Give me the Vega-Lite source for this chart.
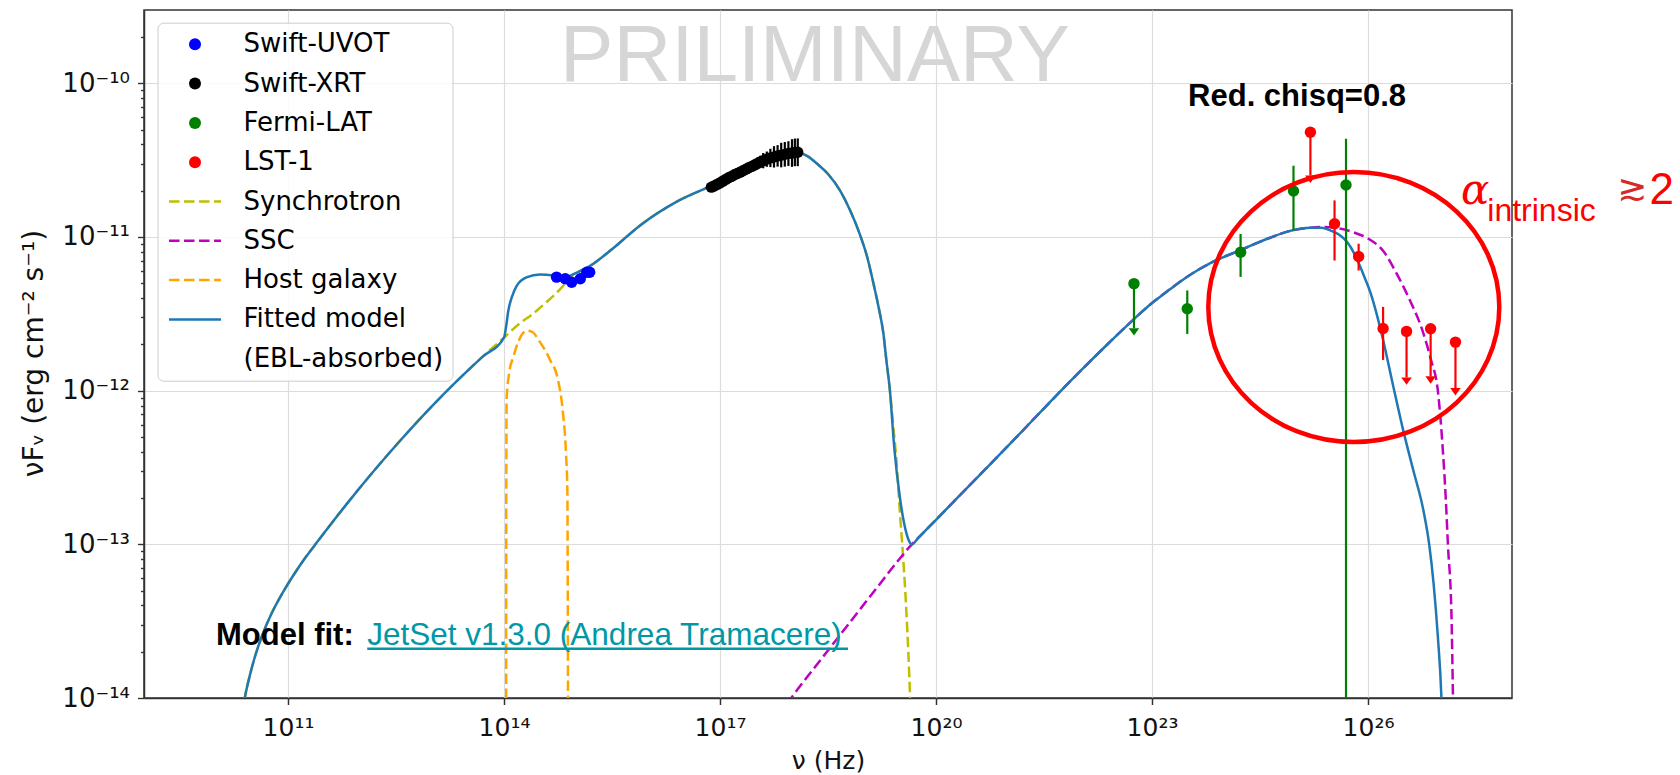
{
  "$schema": "https://vega.github.io/schema/vega-lite/v6.json",
  "width": 1368,
  "height": 688,
  "autosize": {"type": "none"},
  "padding": {"left": 144, "top": 10, "right": 168, "bottom": 77},
  "background": "white",
  "config": {
    "font": "DejaVu Sans",
    "view": {"stroke": "#333333", "strokeWidth": 1.5}
  },
  "datasets": {
    "pts": [
      {"series": "Swift-UVOT", "nu": 5.37e14, "F": 5.48e-12},
      {"series": "Swift-UVOT", "nu": 7.08e14, "F": 5.35e-12},
      {"series": "Swift-UVOT", "nu": 8.71e14, "F": 5.08e-12},
      {"series": "Swift-UVOT", "nu": 1.148e15, "F": 5.35e-12},
      {"series": "Swift-UVOT", "nu": 1.413e15, "F": 5.90e-12},
      {"series": "Swift-UVOT", "nu": 1.549e15, "F": 5.90e-12},
      {"series": "Swift-XRT", "nu": 7.59e16, "F": 2.11e-11},
      {"series": "Swift-XRT", "nu": 8.32e16, "F": 2.15e-11},
      {"series": "Swift-XRT", "nu": 9.12e16, "F": 2.20e-11},
      {"series": "Swift-XRT", "nu": 1.0e17, "F": 2.25e-11},
      {"series": "Swift-XRT", "nu": 1.096e17, "F": 2.31e-11},
      {"series": "Swift-XRT", "nu": 1.202e17, "F": 2.37e-11},
      {"series": "Swift-XRT", "nu": 1.318e17, "F": 2.43e-11},
      {"series": "Swift-XRT", "nu": 1.445e17, "F": 2.48e-11},
      {"series": "Swift-XRT", "nu": 1.585e17, "F": 2.54e-11},
      {"series": "Swift-XRT", "nu": 1.738e17, "F": 2.59e-11},
      {"series": "Swift-XRT", "nu": 1.905e17, "F": 2.64e-11},
      {"series": "Swift-XRT", "nu": 2.089e17, "F": 2.70e-11},
      {"series": "Swift-XRT", "nu": 2.291e17, "F": 2.76e-11},
      {"series": "Swift-XRT", "nu": 2.512e17, "F": 2.82e-11},
      {"series": "Swift-XRT", "nu": 2.754e17, "F": 2.88e-11},
      {"series": "Swift-XRT", "nu": 3.020e17, "F": 2.94e-11},
      {"series": "Swift-XRT", "nu": 3.311e17, "F": 3.01e-11},
      {"series": "Swift-XRT", "nu": 3.631e17, "F": 3.08e-11},
      {"series": "Swift-XRT", "nu": 3.981e17, "F": 3.14e-11},
      {"series": "Swift-XRT", "nu": 4.467e17, "F": 3.21e-11},
      {"series": "Swift-XRT", "nu": 5.012e17, "F": 3.27e-11},
      {"series": "Swift-XRT", "nu": 5.623e17, "F": 3.32e-11},
      {"series": "Swift-XRT", "nu": 6.310e17, "F": 3.37e-11},
      {"series": "Swift-XRT", "nu": 7.079e17, "F": 3.41e-11},
      {"series": "Swift-XRT", "nu": 7.943e17, "F": 3.45e-11},
      {"series": "Swift-XRT", "nu": 8.913e17, "F": 3.49e-11},
      {"series": "Swift-XRT", "nu": 1.0e18, "F": 3.52e-11},
      {"series": "Swift-XRT", "nu": 1.096e18, "F": 3.55e-11},
      {"series": "Swift-XRT", "nu": 1.202e18, "F": 3.56e-11},
      {"series": "Fermi-LAT", "nu": 5.62e22, "F": 4.97e-12},
      {"series": "Fermi-LAT", "nu": 3.09e23, "F": 3.41e-12},
      {"series": "Fermi-LAT", "nu": 1.70e24, "F": 7.96e-12},
      {"series": "Fermi-LAT", "nu": 9.23e24, "F": 1.99e-11},
      {"series": "Fermi-LAT", "nu": 4.95e25, "F": 2.18e-11},
      {"series": "LST-1", "nu": 1.585e25, "F": 4.80e-11},
      {"series": "LST-1", "nu": 3.43e25, "F": 1.22e-11},
      {"series": "LST-1", "nu": 7.41e25, "F": 7.46e-12},
      {"series": "LST-1", "nu": 1.62e26, "F": 2.54e-12},
      {"series": "LST-1", "nu": 3.43e26, "F": 2.43e-12},
      {"series": "LST-1", "nu": 7.41e26, "F": 2.53e-12},
      {"series": "LST-1", "nu": 1.64e27, "F": 2.07e-12}
    ],
    "err": [
      {"series": "Swift-XRT", "nu": 3.311e17, "F2": 2.75e-11, "F": 3.30e-11},
      {"series": "Swift-XRT", "nu": 3.631e17, "F2": 2.81e-11, "F": 3.38e-11},
      {"series": "Swift-XRT", "nu": 3.981e17, "F2": 2.80e-11, "F": 3.52e-11},
      {"series": "Swift-XRT", "nu": 4.467e17, "F2": 2.86e-11, "F": 3.60e-11},
      {"series": "Swift-XRT", "nu": 5.012e17, "F2": 2.85e-11, "F": 3.75e-11},
      {"series": "Swift-XRT", "nu": 5.623e17, "F2": 2.83e-11, "F": 3.90e-11},
      {"series": "Swift-XRT", "nu": 6.310e17, "F2": 2.87e-11, "F": 3.96e-11},
      {"series": "Swift-XRT", "nu": 7.079e17, "F2": 2.84e-11, "F": 4.10e-11},
      {"series": "Swift-XRT", "nu": 7.943e17, "F2": 2.87e-11, "F": 4.15e-11},
      {"series": "Swift-XRT", "nu": 8.913e17, "F2": 2.90e-11, "F": 4.20e-11},
      {"series": "Swift-XRT", "nu": 1.0e18, "F2": 2.86e-11, "F": 4.33e-11},
      {"series": "Swift-XRT", "nu": 1.096e18, "F2": 2.89e-11, "F": 4.37e-11},
      {"series": "Swift-XRT", "nu": 1.202e18, "F2": 2.89e-11, "F": 4.38e-11},
      {"series": "Fermi-LAT", "nu": 3.09e23, "F2": 2.34e-12, "F": 4.49e-12},
      {"series": "Fermi-LAT", "nu": 1.70e24, "F2": 5.50e-12, "F": 1.047e-11},
      {"series": "Fermi-LAT", "nu": 9.23e24, "F2": 1.10e-11, "F": 2.91e-11},
      {"series": "Fermi-LAT", "nu": 4.95e25, "F2": 1e-16, "F": 4.35e-11},
      {"series": "LST-1", "nu": 3.43e25, "F2": 7.03e-12, "F": 1.73e-11},
      {"series": "LST-1", "nu": 7.41e25, "F2": 6.05e-12, "F": 9.04e-12},
      {"series": "LST-1", "nu": 1.62e26, "F2": 1.585e-12, "F": 3.51e-12}
    ],
    "ul": [
      {"series": "Fermi-LAT", "nu": 5.62e22, "F": 4.97e-12, "F2": 2.55e-12},
      {"series": "LST-1", "nu": 1.585e25, "F": 4.80e-11, "F2": 2.51e-11},
      {"series": "LST-1", "nu": 3.43e26, "F": 2.43e-12, "F2": 1.22e-12},
      {"series": "LST-1", "nu": 7.41e26, "F": 2.53e-12, "F2": 1.24e-12},
      {"series": "LST-1", "nu": 1.64e27, "F": 2.07e-12, "F2": 1.04e-12}
    ],
    "ulhead": [
      {"series": "Fermi-LAT", "nu": 5.62e22, "F": 2.55e-12},
      {"series": "LST-1", "nu": 1.585e25, "F": 2.51e-11},
      {"series": "LST-1", "nu": 3.43e26, "F": 1.22e-12},
      {"series": "LST-1", "nu": 7.41e26, "F": 1.24e-12},
      {"series": "LST-1", "nu": 1.64e27, "F": 1.04e-12}
    ],
    "comp": [
      {"series": "Synchrotron", "nu": 2.291e10, "F": 7.586e-15},
      {"series": "Synchrotron", "nu": 2.512e10, "F": 1.0e-14},
      {"series": "Synchrotron", "nu": 2.951e10, "F": 1.403e-14},
      {"series": "Synchrotron", "nu": 3.548e10, "F": 1.919e-14},
      {"series": "Synchrotron", "nu": 4.467e10, "F": 2.618e-14},
      {"series": "Synchrotron", "nu": 5.888e10, "F": 3.532e-14},
      {"series": "Synchrotron", "nu": 8.318e10, "F": 4.786e-14},
      {"series": "Synchrotron", "nu": 1.259e11, "F": 6.561e-14},
      {"series": "Synchrotron", "nu": 1.778e11, "F": 8.299e-14},
      {"series": "Synchrotron", "nu": 2.570e11, "F": 1.042e-13},
      {"series": "Synchrotron", "nu": 6.310e11, "F": 1.793e-13},
      {"series": "Synchrotron", "nu": 1.585e12, "F": 3.034e-13},
      {"series": "Synchrotron", "nu": 3.981e12, "F": 4.977e-13},
      {"series": "Synchrotron", "nu": 1.0e13, "F": 7.925e-13},
      {"series": "Synchrotron", "nu": 2.188e13, "F": 1.148e-12},
      {"series": "Synchrotron", "nu": 5.012e13, "F": 1.660e-12},
      {"series": "Synchrotron", "nu": 1.0e14, "F": 2.213e-12},
      {"series": "Synchrotron", "nu": 1.585e14, "F": 2.692e-12},
      {"series": "Synchrotron", "nu": 2.512e14, "F": 3.162e-12},
      {"series": "Synchrotron", "nu": 3.981e14, "F": 3.802e-12},
      {"series": "Synchrotron", "nu": 6.026e14, "F": 4.571e-12},
      {"series": "Synchrotron", "nu": 8.913e14, "F": 5.623e-12},
      {"series": "Synchrotron", "nu": 1.549e15, "F": 6.457e-12},
      {"series": "Synchrotron", "nu": 3.162e15, "F": 8.318e-12},
      {"series": "Synchrotron", "nu": 7.762e15, "F": 1.189e-11},
      {"series": "Synchrotron", "nu": 2.512e16, "F": 1.698e-11},
      {"series": "Synchrotron", "nu": 7.244e16, "F": 2.138e-11},
      {"series": "Synchrotron", "nu": 1.380e17, "F": 2.483e-11},
      {"series": "Synchrotron", "nu": 2.344e17, "F": 2.799e-11},
      {"series": "Synchrotron", "nu": 3.981e17, "F": 3.162e-11},
      {"series": "Synchrotron", "nu": 6.761e17, "F": 3.428e-11},
      {"series": "Synchrotron", "nu": 1.0e18, "F": 3.548e-11},
      {"series": "Synchrotron", "nu": 1.288e18, "F": 3.508e-11},
      {"series": "Synchrotron", "nu": 1.660e18, "F": 3.350e-11},
      {"series": "Synchrotron", "nu": 2.188e18, "F": 3.020e-11},
      {"series": "Synchrotron", "nu": 3.162e18, "F": 2.570e-11},
      {"series": "Synchrotron", "nu": 4.677e18, "F": 1.995e-11},
      {"series": "Synchrotron", "nu": 6.310e18, "F": 1.514e-11},
      {"series": "Synchrotron", "nu": 8.710e18, "F": 1.047e-11},
      {"series": "Synchrotron", "nu": 1.122e19, "F": 7.244e-12},
      {"series": "Synchrotron", "nu": 1.349e19, "F": 5.012e-12},
      {"series": "Synchrotron", "nu": 1.585e19, "F": 3.548e-12},
      {"series": "Synchrotron", "nu": 1.862e19, "F": 2.344e-12},
      {"series": "Synchrotron", "nu": 2.042e19, "F": 1.585e-12},
      {"series": "Synchrotron", "nu": 2.291e19, "F": 1.0e-12},
      {"series": "Synchrotron", "nu": 2.512e19, "F": 6.310e-13},
      {"series": "Synchrotron", "nu": 2.818e19, "F": 3.548e-13},
      {"series": "Synchrotron", "nu": 3.162e19, "F": 1.585e-13},
      {"series": "Synchrotron", "nu": 3.548e19, "F": 7.413e-14},
      {"series": "Synchrotron", "nu": 3.890e19, "F": 3.548e-14},
      {"series": "Synchrotron", "nu": 4.365e19, "F": 1.0e-14},
      {"series": "Synchrotron", "nu": 4.571e19, "F": 5.012e-15},
      {"series": "SSC", "nu": 8.511e17, "F": 9.12e-15},
      {"series": "SSC", "nu": 9.772e17, "F": 1.0e-14},
      {"series": "SSC", "nu": 1.995e18, "F": 1.549e-14},
      {"series": "SSC", "nu": 3.981e18, "F": 2.344e-14},
      {"series": "SSC", "nu": 7.943e18, "F": 3.548e-14},
      {"series": "SSC", "nu": 1.585e19, "F": 5.370e-14},
      {"series": "SSC", "nu": 2.818e19, "F": 7.586e-14},
      {"series": "SSC", "nu": 4.624e19, "F": 1.0e-13},
      {"series": "SSC", "nu": 5.623e19, "F": 1.096e-13},
      {"series": "SSC", "nu": 1.0e20, "F": 1.445e-13},
      {"series": "SSC", "nu": 3.162e20, "F": 2.512e-13},
      {"series": "SSC", "nu": 1.0e21, "F": 4.365e-13},
      {"series": "SSC", "nu": 3.162e21, "F": 7.674e-13},
      {"series": "SSC", "nu": 1.0e22, "F": 1.334e-12},
      {"series": "SSC", "nu": 2.512e22, "F": 2.042e-12},
      {"series": "SSC", "nu": 4.898e22, "F": 2.754e-12},
      {"series": "SSC", "nu": 1.0e23, "F": 3.715e-12},
      {"series": "SSC", "nu": 1.778e23, "F": 4.571e-12},
      {"series": "SSC", "nu": 3.162e23, "F": 5.559e-12},
      {"series": "SSC", "nu": 6.457e23, "F": 6.761e-12},
      {"series": "SSC", "nu": 1.698e24, "F": 8.222e-12},
      {"series": "SSC", "nu": 4.365e24, "F": 9.886e-12},
      {"series": "SSC", "nu": 8.318e24, "F": 1.096e-11},
      {"series": "SSC", "nu": 1.585e25, "F": 1.148e-11},
      {"series": "SSC", "nu": 2.512e25, "F": 1.161e-11},
      {"series": "SSC", "nu": 3.981e25, "F": 1.135e-11},
      {"series": "SSC", "nu": 6.310e25, "F": 1.072e-11},
      {"series": "SSC", "nu": 1.0e26, "F": 9.772e-12},
      {"series": "SSC", "nu": 1.622e26, "F": 8.128e-12},
      {"series": "SSC", "nu": 2.512e26, "F": 5.754e-12},
      {"series": "SSC", "nu": 3.802e26, "F": 3.890e-12},
      {"series": "SSC", "nu": 5.623e26, "F": 2.512e-12},
      {"series": "SSC", "nu": 7.499e26, "F": 1.585e-12},
      {"series": "SSC", "nu": 9.333e26, "F": 1.0e-12},
      {"series": "SSC", "nu": 1.096e27, "F": 4.074e-13},
      {"series": "SSC", "nu": 1.202e27, "F": 1.995e-13},
      {"series": "SSC", "nu": 1.288e27, "F": 1.0e-13},
      {"series": "SSC", "nu": 1.445e27, "F": 3.388e-14},
      {"series": "SSC", "nu": 1.514e27, "F": 1.0e-14},
      {"series": "SSC", "nu": 1.549e27, "F": 5.012e-15},
      {"series": "Host galaxy", "nu": 1.072e14, "F": 5.012e-15},
      {"series": "Host galaxy", "nu": 1.074e14, "F": 1.0e-13},
      {"series": "Host galaxy", "nu": 1.079e14, "F": 3.981e-13},
      {"series": "Host galaxy", "nu": 1.086e14, "F": 8.710e-13},
      {"series": "Host galaxy", "nu": 1.175e14, "F": 1.288e-12},
      {"series": "Host galaxy", "nu": 1.349e14, "F": 1.660e-12},
      {"series": "Host galaxy", "nu": 1.585e14, "F": 2.089e-12},
      {"series": "Host galaxy", "nu": 2.089e14, "F": 2.455e-12},
      {"series": "Host galaxy", "nu": 2.512e14, "F": 2.399e-12},
      {"series": "Host galaxy", "nu": 3.020e14, "F": 2.138e-12},
      {"series": "Host galaxy", "nu": 4.365e14, "F": 1.585e-12},
      {"series": "Host galaxy", "nu": 5.623e14, "F": 1.175e-12},
      {"series": "Host galaxy", "nu": 6.607e14, "F": 7.079e-13},
      {"series": "Host galaxy", "nu": 7.244e14, "F": 3.981e-13},
      {"series": "Host galaxy", "nu": 7.586e14, "F": 2.239e-13},
      {"series": "Host galaxy", "nu": 7.674e14, "F": 6.310e-14},
      {"series": "Host galaxy", "nu": 7.762e14, "F": 5.012e-15}
    ],
    "fit": [
      {"series": "Fitted model", "nu": 2.291e10, "F": 7.586e-15},
      {"series": "Fitted model", "nu": 2.512e10, "F": 1.0e-14},
      {"series": "Fitted model", "nu": 2.951e10, "F": 1.403e-14},
      {"series": "Fitted model", "nu": 3.548e10, "F": 1.919e-14},
      {"series": "Fitted model", "nu": 4.467e10, "F": 2.618e-14},
      {"series": "Fitted model", "nu": 5.888e10, "F": 3.532e-14},
      {"series": "Fitted model", "nu": 8.318e10, "F": 4.786e-14},
      {"series": "Fitted model", "nu": 1.259e11, "F": 6.561e-14},
      {"series": "Fitted model", "nu": 1.778e11, "F": 8.299e-14},
      {"series": "Fitted model", "nu": 2.570e11, "F": 1.042e-13},
      {"series": "Fitted model", "nu": 6.310e11, "F": 1.793e-13},
      {"series": "Fitted model", "nu": 1.585e12, "F": 3.034e-13},
      {"series": "Fitted model", "nu": 3.981e12, "F": 4.977e-13},
      {"series": "Fitted model", "nu": 1.0e13, "F": 7.925e-13},
      {"series": "Fitted model", "nu": 2.188e13, "F": 1.148e-12},
      {"series": "Fitted model", "nu": 5.012e13, "F": 1.660e-12},
      {"series": "Fitted model", "nu": 1.0e14, "F": 2.213e-12},
      {"series": "Fitted model", "nu": 1.072e14, "F": 2.630e-12},
      {"series": "Fitted model", "nu": 1.148e14, "F": 3.311e-12},
      {"series": "Fitted model", "nu": 1.288e14, "F": 4.074e-12},
      {"series": "Fitted model", "nu": 1.514e14, "F": 4.842e-12},
      {"series": "Fitted model", "nu": 2.089e14, "F": 5.483e-12},
      {"series": "Fitted model", "nu": 3.162e14, "F": 5.702e-12},
      {"series": "Fitted model", "nu": 4.898e14, "F": 5.623e-12},
      {"series": "Fitted model", "nu": 7.079e14, "F": 5.470e-12},
      {"series": "Fitted model", "nu": 8.913e14, "F": 5.689e-12},
      {"series": "Fitted model", "nu": 1.549e15, "F": 6.457e-12},
      {"series": "Fitted model", "nu": 3.162e15, "F": 8.318e-12},
      {"series": "Fitted model", "nu": 7.762e15, "F": 1.189e-11},
      {"series": "Fitted model", "nu": 2.512e16, "F": 1.698e-11},
      {"series": "Fitted model", "nu": 7.244e16, "F": 2.138e-11},
      {"series": "Fitted model", "nu": 1.380e17, "F": 2.483e-11},
      {"series": "Fitted model", "nu": 2.344e17, "F": 2.799e-11},
      {"series": "Fitted model", "nu": 3.981e17, "F": 3.162e-11},
      {"series": "Fitted model", "nu": 6.761e17, "F": 3.428e-11},
      {"series": "Fitted model", "nu": 1.0e18, "F": 3.548e-11},
      {"series": "Fitted model", "nu": 1.288e18, "F": 3.508e-11},
      {"series": "Fitted model", "nu": 1.660e18, "F": 3.350e-11},
      {"series": "Fitted model", "nu": 2.188e18, "F": 3.020e-11},
      {"series": "Fitted model", "nu": 3.162e18, "F": 2.570e-11},
      {"series": "Fitted model", "nu": 4.677e18, "F": 1.995e-11},
      {"series": "Fitted model", "nu": 6.310e18, "F": 1.514e-11},
      {"series": "Fitted model", "nu": 8.710e18, "F": 1.047e-11},
      {"series": "Fitted model", "nu": 1.122e19, "F": 7.244e-12},
      {"series": "Fitted model", "nu": 1.349e19, "F": 5.012e-12},
      {"series": "Fitted model", "nu": 1.585e19, "F": 3.548e-12},
      {"series": "Fitted model", "nu": 1.862e19, "F": 2.344e-12},
      {"series": "Fitted model", "nu": 2.042e19, "F": 1.585e-12},
      {"series": "Fitted model", "nu": 2.291e19, "F": 1.0e-12},
      {"series": "Fitted model", "nu": 2.630e19, "F": 4.266e-13},
      {"series": "Fitted model", "nu": 3.162e19, "F": 1.995e-13},
      {"series": "Fitted model", "nu": 3.631e19, "F": 1.349e-13},
      {"series": "Fitted model", "nu": 4.074e19, "F": 1.096e-13},
      {"series": "Fitted model", "nu": 4.624e19, "F": 1.0e-13},
      {"series": "Fitted model", "nu": 5.623e19, "F": 1.096e-13},
      {"series": "Fitted model", "nu": 1.0e20, "F": 1.445e-13},
      {"series": "Fitted model", "nu": 3.162e20, "F": 2.512e-13},
      {"series": "Fitted model", "nu": 1.0e21, "F": 4.365e-13},
      {"series": "Fitted model", "nu": 3.162e21, "F": 7.674e-13},
      {"series": "Fitted model", "nu": 1.0e22, "F": 1.334e-12},
      {"series": "Fitted model", "nu": 2.512e22, "F": 2.042e-12},
      {"series": "Fitted model", "nu": 4.898e22, "F": 2.754e-12},
      {"series": "Fitted model", "nu": 1.0e23, "F": 3.715e-12},
      {"series": "Fitted model", "nu": 1.778e23, "F": 4.571e-12},
      {"series": "Fitted model", "nu": 3.162e23, "F": 5.559e-12},
      {"series": "Fitted model", "nu": 6.457e23, "F": 6.761e-12},
      {"series": "Fitted model", "nu": 1.698e24, "F": 8.222e-12},
      {"series": "Fitted model", "nu": 4.365e24, "F": 9.886e-12},
      {"series": "Fitted model", "nu": 8.318e24, "F": 1.096e-11},
      {"series": "Fitted model", "nu": 1.585e25, "F": 1.148e-11},
      {"series": "Fitted model", "nu": 2.239e25, "F": 1.148e-11},
      {"series": "Fitted model", "nu": 3.020e25, "F": 1.102e-11},
      {"series": "Fitted model", "nu": 3.981e25, "F": 1.035e-11},
      {"series": "Fitted model", "nu": 5.070e25, "F": 9.333e-12},
      {"series": "Fitted model", "nu": 6.310e25, "F": 7.943e-12},
      {"series": "Fitted model", "nu": 7.413e25, "F": 6.761e-12},
      {"series": "Fitted model", "nu": 8.913e25, "F": 5.495e-12},
      {"series": "Fitted model", "nu": 1.096e26, "F": 4.266e-12},
      {"series": "Fitted model", "nu": 1.318e26, "F": 3.162e-12},
      {"series": "Fitted model", "nu": 1.622e26, "F": 2.138e-12},
      {"series": "Fitted model", "nu": 2.239e26, "F": 1.072e-12},
      {"series": "Fitted model", "nu": 3.090e26, "F": 5.495e-13},
      {"series": "Fitted model", "nu": 4.266e26, "F": 3.020e-13},
      {"series": "Fitted model", "nu": 5.888e26, "F": 1.660e-13},
      {"series": "Fitted model", "nu": 7.079e26, "F": 1.0e-13},
      {"series": "Fitted model", "nu": 8.128e26, "F": 5.623e-14},
      {"series": "Fitted model", "nu": 9.333e26, "F": 2.512e-14},
      {"series": "Fitted model", "nu": 1.047e27, "F": 1.0e-14},
      {"series": "Fitted model", "nu": 1.096e27, "F": 5.012e-15}
    ]
  },
  "encoding": {
    "x": {
      "field": "nu", "type": "quantitative",
      "scale": {"type": "log", "domain": [1e9, 1e28], "nice": false},
      "axis": {
        "title": "ν (Hz)",
        "values": [1e11, 1e14, 1e17, 1e20, 1e23, 1e26],
        "labelExpr": "['10¹¹','10¹⁴','10¹⁷','10²⁰','10²³','10²⁶'][round((log(datum.value)/LN10-11)/3)]",
        "grid": true, "gridColor": "#dcdcdc", "gridWidth": 1.2,
        "tickSize": 6.5, "tickWidth": 1.5, "tickColor": "#333333",
        "domainColor": "#333333", "domainWidth": 1.5,
        "labelFont": "DejaVu Sans", "labelFontSize": 25, "labelColor": "#111111", "labelPadding": 10.7,
        "labelOverlap": false, "labelFlush": false, "labelBound": false,
        "titleFont": "DejaVu Sans", "titleFontSize": 25, "titleFontWeight": "normal", "titleColor": "#111111",
        "titleBaseline": "alphabetic", "titleY": 70
      }
    },
    "y": {
      "field": "F", "type": "quantitative",
      "scale": {"type": "log", "domain": [1e-14, 3e-10], "nice": false},
      "axis": {
        "title": "νFᵥ (erg cm⁻² s⁻¹)",
        "values": [1e-14, 2e-14, 3e-14, 4e-14, 5e-14, 6e-14, 7e-14, 8e-14, 9e-14, 1e-13, 2e-13, 3e-13, 4e-13, 5e-13, 6e-13, 7e-13, 8e-13, 9e-13, 1e-12, 2e-12, 3e-12, 4e-12, 5e-12, 6e-12, 7e-12, 8e-12, 9e-12, 1e-11, 2e-11, 3e-11, 4e-11, 5e-11, 6e-11, 7e-11, 8e-11, 9e-11, 1e-10, 2e-10],
        "labelExpr": "abs(log(datum.value)/LN10-round(log(datum.value)/LN10))<0.01 ? ['10⁻¹⁴','10⁻¹³','10⁻¹²','10⁻¹¹','10⁻¹⁰'][round(log(datum.value)/LN10)+14] : ''",
        "tickSize": 6.5,
        "tickWidth": 1.4,
        "tickDash": {"condition": {"test": "abs(log(datum.value)/LN10-round(log(datum.value)/LN10))<0.01", "value": []}, "value": [3.5, 50]},
        "gridOpacity": {"condition": {"test": "abs(log(datum.value)/LN10-round(log(datum.value)/LN10))<0.01", "value": 1}, "value": 0},
        "grid": true, "gridColor": "#dcdcdc", "gridWidth": 1.2,
        "tickColor": "#333333",
        "domainColor": "#333333", "domainWidth": 1.5,
        "labelFont": "DejaVu Sans", "labelFontSize": 26, "labelColor": "#111111", "labelPadding": 8,
        "labelOverlap": false, "labelFlush": false, "labelBound": false,
        "titleFont": "DejaVu Sans", "titleFontSize": 28, "titleFontWeight": "normal", "titleColor": "#111111",
        "titleAngle": 270, "titleAlign": "center", "titleBaseline": "middle", "titleX": -109.5, "titleY": 343
      }
    }
  },
  "layer": [
    {
      "data": {"values": [{"nu": 6.0e14, "F": 1.041e-10, "label": "PRILIMINARY"}]},
      "mark": {"type": "text", "font": "Liberation Sans", "fontSize": 80, "color": "#d6d6d6", "align": "left", "baseline": "alphabetic"},
      "encoding": {"text": {"field": "label"}}
    },
    {
      "data": {"name": "comp"},
      "transform": [{"filter": "datum.series == 'Synchrotron'"}],
      "mark": {"type": "line", "color": "#bfbf00", "strokeWidth": 2.5, "strokeDash": [10.5, 4.5], "clip": true, "interpolate": "monotone"}
    },
    {
      "data": {"name": "comp"},
      "transform": [{"filter": "datum.series == 'SSC'"}],
      "mark": {"type": "line", "color": "#bf00bf", "strokeWidth": 2.5, "strokeDash": [10.5, 4.5], "clip": true, "interpolate": "monotone"}
    },
    {
      "data": {"name": "comp"},
      "transform": [{"filter": "datum.series == 'Host galaxy'"}],
      "mark": {"type": "line", "color": "#ffa500", "strokeWidth": 2.5, "strokeDash": [10.5, 4.5], "clip": true, "interpolate": "monotone"}
    },
    {
      "data": {"name": "fit"},
      "mark": {"type": "line", "color": "#1f77b4", "strokeWidth": 2.5, "clip": true, "interpolate": "monotone"}
    },
    {
      "data": {"name": "err"},
      "transform": [{"filter": "datum.series == 'Swift-XRT'"}],
      "mark": {"type": "rule", "color": "#000000", "strokeWidth": 2.2, "clip": true},
      "encoding": {"y2": {"field": "F2"}}
    },
    {
      "data": {"name": "err"},
      "transform": [{"filter": "datum.series == 'Fermi-LAT'"}],
      "mark": {"type": "rule", "color": "#008000", "strokeWidth": 2.2, "clip": true},
      "encoding": {"y2": {"field": "F2"}}
    },
    {
      "data": {"name": "err"},
      "transform": [{"filter": "datum.series == 'LST-1'"}],
      "mark": {"type": "rule", "color": "#ff0000", "strokeWidth": 2.2, "clip": true},
      "encoding": {"y2": {"field": "F2"}}
    },
    {
      "data": {"name": "ul"},
      "transform": [{"filter": "datum.series == 'Fermi-LAT'"}],
      "mark": {"type": "rule", "color": "#008000", "strokeWidth": 2.2, "clip": true},
      "encoding": {"y2": {"field": "F2"}}
    },
    {
      "data": {"name": "ul"},
      "transform": [{"filter": "datum.series == 'LST-1'"}],
      "mark": {"type": "rule", "color": "#ff0000", "strokeWidth": 2.2, "clip": true},
      "encoding": {"y2": {"field": "F2"}}
    },
    {
      "data": {"name": "ulhead"},
      "transform": [{"filter": "datum.series == 'Fermi-LAT'"}],
      "mark": {"type": "point", "shape": "M-1,0L1,0L0,1.4Z", "filled": true, "size": 110, "opacity": 1, "color": "#008000"}
    },
    {
      "data": {"name": "ulhead"},
      "transform": [{"filter": "datum.series == 'LST-1'"}],
      "mark": {"type": "point", "shape": "M-1,0L1,0L0,1.4Z", "filled": true, "size": 110, "opacity": 1, "color": "#ff0000"}
    },
    {
      "data": {"name": "pts"},
      "mark": {"type": "point", "shape": "circle", "filled": true, "size": 130, "opacity": 1},
      "encoding": {
        "color": {
          "field": "series", "type": "nominal",
          "scale": {
            "domain": ["Swift-UVOT", "Swift-XRT", "Fermi-LAT", "LST-1", "Synchrotron", "SSC", "Host galaxy", "Fitted model", "(EBL-absorbed)"],
            "range": ["#0000ff", "#000000", "#008000", "#ff0000", "#bfbf00", "#bf00bf", "#ffa500", "#1f77b4", "transparent"]
          },
          "legend": {
            "title": null,
            "orient": "none",
            "legendX": 13.5,
            "legendY": 12.7,
            "padding": 8.6,
            "strokeColor": "#cccccc",
            "fillColor": "rgba(255,255,255,0.85)",
            "cornerRadius": 6,
            "rowPadding": 13.3,
            "symbolSize": 144,
            "symbolStrokeWidth": 2.5,
            "symbolOffset": 15.9,
            "labelOffset": 35.5,
            "labelFont": "DejaVu Sans",
            "labelFontSize": 26,
            "labelColor": "#000000",
            "labelLimit": 400,
            "symbolType": {"expr": "indexof(['Swift-UVOT','Swift-XRT','Fermi-LAT','LST-1'], datum.value) >= 0 ? 'circle' : 'M-4.33,0L4.33,0'"},
            "symbolStrokeColor": {"expr": "indexof(['Swift-UVOT','Swift-XRT','Fermi-LAT','LST-1'], datum.value) >= 0 ? 'transparent' : scale('color', datum.value)"},
            "symbolDash": {"expr": "datum.value == 'Fitted model' ? [1, 0] : [10.5, 4.5]"}
          }
        }
      }
    },
    {
      "data": {"values": [{"nu": 6.35e25, "F": 3.5e-12}]},
      "mark": {"type": "point", "shape": "M1,0C1,0.5125 0.5523,0.928 0,0.928C-0.5523,0.928 -1,0.5125 -1,0C-1,-0.5125 -0.5523,-0.928 0,-0.928C0.5523,-0.928 1,-0.5125 1,0Z", "filled": false, "size": 84681, "stroke": "#ff0000", "strokeWidth": 4.5, "opacity": 1}
    },
    {
      "data": {"values": [{"nu": 3.17e23, "F": 7.16e-11, "label": "Red. chisq=0.8"}, {"nu": 1.0e10, "F": 2.21e-14, "label": "Model fit:"}]},
      "mark": {"type": "text", "font": "Liberation Sans", "fontWeight": "bold", "fontSize": 31, "color": "#000000", "align": "left", "baseline": "alphabetic"},
      "encoding": {"text": {"field": "label"}}
    },
    {
      "data": {"values": [{"nu": 1.26e12, "F": 2.21e-14, "label": "JetSet v1.3.0 (Andrea Tramacere)"}]},
      "mark": {"type": "text", "font": "Liberation Sans", "fontSize": 31.5, "color": "#0097a7", "align": "left", "baseline": "alphabetic"},
      "encoding": {"text": {"field": "label"}}
    },
    {
      "data": {"values": [{"nu": 1.26e12, "nu2": 6.0e18, "F": 2.09e-14}]},
      "mark": {"type": "rule", "color": "#0097a7", "strokeWidth": 2.5},
      "encoding": {"x2": {"field": "nu2"}}
    },
    {
      "data": {"values": [{"nu": 1.96e27, "F": 1.644e-11, "label": "α"}]},
      "mark": {"type": "text", "font": "DejaVu Serif", "fontStyle": "italic", "fontSize": 42, "color": "#ff0000", "align": "left", "baseline": "alphabetic"},
      "encoding": {"text": {"field": "label"}}
    },
    {
      "data": {"values": [{"nu": 4.54e27, "F": 1.279e-11, "label": "intrinsic"}]},
      "mark": {"type": "text", "font": "Liberation Sans", "fontSize": 32, "color": "#ff0000", "align": "left", "baseline": "alphabetic"},
      "encoding": {"text": {"field": "label"}}
    },
    {
      "data": {"values": [{"nu": 2.9e29, "F": 1.75e-11, "label": "≳"}]},
      "mark": {"type": "text", "font": "DejaVu Sans", "fontSize": 36, "color": "#d42a2a", "align": "left", "baseline": "alphabetic"},
      "encoding": {"text": {"field": "label"}}
    },
    {
      "data": {"values": [{"nu": 8.1e29, "F": 1.644e-11, "label": "2"}]},
      "mark": {"type": "text", "font": "Liberation Sans", "fontSize": 44, "color": "#ff0000", "align": "left", "baseline": "alphabetic"},
      "encoding": {"text": {"field": "label"}}
    }
  ]
}
